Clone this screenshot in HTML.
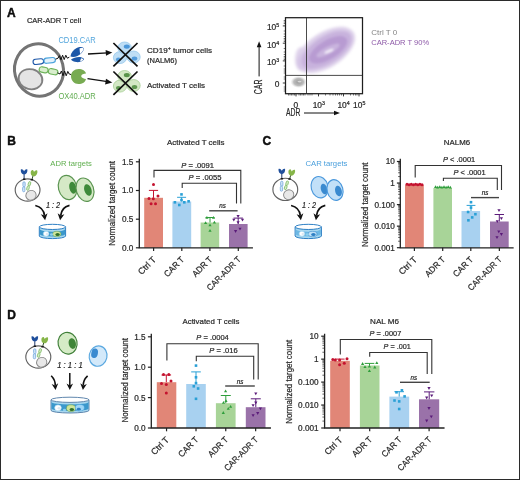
<!DOCTYPE html>
<html><head><meta charset="utf-8"><title>Figure</title>
<style>
html,body{margin:0;padding:0;background:#fff;}
body{width:520px;height:480px;overflow:hidden;position:relative;font-family:"Liberation Sans",sans-serif;}
#frame{position:absolute;left:0;top:0;width:518px;height:478px;border:1px solid #2b2b2b;}
svg{position:absolute;left:0;top:0;display:block;will-change:transform;opacity:0.999;}
svg text{font-family:"Liberation Sans",sans-serif;paint-order:stroke;stroke-width:0.22px;stroke-linejoin:round;}
</style></head><body>
<svg width="520" height="480" viewBox="0 0 520 480">
<text x="6.9" y="16.9" font-size="12" font-weight="bold" fill="#0c0c0c" stroke="#0c0c0c" style="stroke-width:0.45px">A</text>
<text x="7.2" y="144.7" font-size="12" font-weight="bold" fill="#0c0c0c" stroke="#0c0c0c" style="stroke-width:0.45px">B</text>
<text x="262.4" y="144.9" font-size="12" font-weight="bold" fill="#0c0c0c" stroke="#0c0c0c" style="stroke-width:0.45px">C</text>
<text x="7.2" y="318.7" font-size="12" font-weight="bold" fill="#0c0c0c" stroke="#0c0c0c" style="stroke-width:0.45px">D</text>
<text x="26.9" y="22.7" font-size="7.9" fill="#2a2a2a" stroke="#2a2a2a" textLength="54.2" lengthAdjust="spacingAndGlyphs">CAR-ADR T cell</text>
<text x="58.4" y="42.6" font-size="8.3" fill="#52a5dc" textLength="37.4" lengthAdjust="spacingAndGlyphs">CD19.CAR</text>
<text x="58.4" y="99" font-size="8.3" fill="#62ad52" textLength="37.4" lengthAdjust="spacingAndGlyphs">OX40.ADR</text>
<text x="147" y="53" font-size="7.9" fill="#2a2a2a" stroke="#2a2a2a" textLength="65" lengthAdjust="spacingAndGlyphs">CD19<tspan font-size="5.2" dy="-2.8">+</tspan><tspan dy="2.8"> tumor cells</tspan></text>
<text x="147" y="62.5" font-size="7.9" fill="#2a2a2a" stroke="#2a2a2a" textLength="30" lengthAdjust="spacingAndGlyphs">(NALM6)</text>
<text x="147" y="87.6" font-size="7.9" fill="#2a2a2a" stroke="#2a2a2a" textLength="58" lengthAdjust="spacingAndGlyphs">Activated T cells</text>

<g id="tcellA">
<ellipse cx="39" cy="70" rx="24.4" ry="26.2" fill="#fff" stroke="#747474" stroke-width="3" transform="rotate(-14 39 70)"/>
<ellipse cx="30.5" cy="79.2" rx="12" ry="10" fill="#e4e4e4" stroke="#808080" stroke-width="1.8" transform="rotate(14 30.5 79.2)"/>
<g transform="rotate(-6 44 61)">
<rect x="33" y="58.4" width="10.6" height="5.2" rx="2.6" fill="#fff" stroke="#1d57a8" stroke-width="1.1"/>
<rect x="44" y="58.4" width="11.4" height="5.2" rx="2.6" fill="#e3f1fb" stroke="#4aa3dc" stroke-width="1.1"/>
</g>
<path d="M55.5 59.2L58 58.2l1.400-2.600 1.600 4.200 1.600-4.600 1.600 4.400 1.600-4.400 1.500 3 2-1" stroke="#111" stroke-width="1" fill="none"/>
<path d="M70.500 56.500c.5-4.500 4.500-8.500 9-9.500c2.500-.3 4 .5 4.500 1.500c-.5 3-3 6-6.500 7.500c-2.500 1-5 1.300-7 .5z" fill="#1d57a8"/>
<path d="M79.500 48.500c2-1 3.500-.8 4.200 .2c-.5 2-1.800 3.800-3.600 5.200z" fill="#fff"/>
<path d="M71 59.500c2.500-1.800 6.500-2.800 10-2.300c2 .4 3 1.300 3 2.300c-1.500 1.800-4.500 2.800-7.500 2.600c-2.500-.2-4.500-1.200-5.500-2.600z" fill="#1d57a8"/>
<path d="M81 58.200c1.500 .2 2.300 .8 2.300 1.500c-.8 .8-2 1.400-3.300 1.700z" fill="#fff"/>
<g transform="rotate(11 48 70.800)">
<rect x="39" y="68" width="9" height="5.400" rx="2.700" fill="#d9eecd" stroke="#6db35a" stroke-width="1.1"/>
<rect x="48.400" y="68" width="9.600" height="5.400" rx="2.700" fill="#d9eecd" stroke="#6db35a" stroke-width="1.1"/>
</g>
<path d="M57.500 72.800L60 74l1.400-3 1.600 4.800 1.600-4.800 1.600 4.800 1.600-4.400 1.400 2.600 2 .6" stroke="#111" stroke-width="1" fill="none"/>
<path d="M71 76c0-4 3.500-7 7.500-7c4 0 7 2 7.500 4.500c-2.200 .3-4.800 1-4.800 2.700c0 1.700 2.600 2.300 4.800 2.800c-.5 3-3.500 5-7.500 5c-4.300 0-7.500-3.500-7.500-8z" fill="#78ab52"/>
</g>
<path d="M88 54L107.500 52.800" stroke="#111" stroke-width="1.300" fill="none"/>
<path d="M112.300 52.500l-6.700-2.400l.4 5.600z" fill="#111"/>
<path d="M87.500 78.700L107.500 81.700" stroke="#111" stroke-width="1.300" fill="none"/>
<path d="M112.300 82.400l-6.300-3.600l-.9 5.700z" fill="#111"/>

<g transform="translate(0 0)">
<ellipse cx="120" cy="57.6" rx="6.6" ry="6" fill="#bfdef5" stroke="#8cc3ea" stroke-width="0.7"/>
<ellipse cx="118.5" cy="59.5" rx="2.6" ry="2" fill="#3f8fd6" opacity="0.85"/>
<ellipse cx="133.6" cy="57" rx="6.6" ry="6" fill="#bfdef5" stroke="#8cc3ea" stroke-width="0.7"/>
<ellipse cx="134.5" cy="58.5" rx="2.8" ry="2" fill="#3f8fd6" opacity="0.85"/>
<ellipse cx="124.6" cy="47.8" rx="6.8" ry="5.8" fill="#bfdef5" stroke="#8cc3ea" stroke-width="0.7"/>
<ellipse cx="126.8" cy="46.6" rx="3" ry="2.2" fill="#3f8fd6" opacity="0.9"/>
<path d="M113.4 43L137.5 66.4M137.5 43L113.4 66.4" stroke="#111" stroke-width="1.7"/>
</g>
<g transform="translate(0 28.5)">
<ellipse cx="120" cy="57.6" rx="6.6" ry="6" fill="#d3e8c5" stroke="#9cc98a" stroke-width="0.7"/>
<ellipse cx="118.5" cy="59.5" rx="2.6" ry="2" fill="#4a8a3c" opacity="0.85"/>
<ellipse cx="133.6" cy="57" rx="6.6" ry="6" fill="#d3e8c5" stroke="#9cc98a" stroke-width="0.7"/>
<ellipse cx="134.5" cy="58.5" rx="2.8" ry="2" fill="#4a8a3c" opacity="0.85"/>
<ellipse cx="124.6" cy="47.8" rx="6.8" ry="5.8" fill="#d3e8c5" stroke="#9cc98a" stroke-width="0.7"/>
<ellipse cx="126.8" cy="46.6" rx="3" ry="2.2" fill="#4a8a3c" opacity="0.9"/>
<path d="M113.4 43L137.5 66.4M137.5 43L113.4 66.4" stroke="#111" stroke-width="1.7"/>
</g>

<defs>
<radialGradient id="gp" cx="50%" cy="50%" r="50%">
<stop offset="0" stop-color="#9e78b8" stop-opacity="0.95"/>
<stop offset="0.55" stop-color="#b396c9" stop-opacity="0.8"/>
<stop offset="0.85" stop-color="#d5c4e2" stop-opacity="0.55"/>
<stop offset="1" stop-color="#e9dff0" stop-opacity="0"/>
</radialGradient>
<radialGradient id="gg" cx="50%" cy="50%" r="50%">
<stop offset="0" stop-color="#9a9a9a" stop-opacity="1"/>
<stop offset="0.6" stop-color="#b0b0b0" stop-opacity="0.85"/>
<stop offset="1" stop-color="#d8d8d8" stop-opacity="0"/>
</radialGradient>
</defs>
<filter id="bl" x="-20%" y="-20%" width="140%" height="140%"><feGaussianBlur stdDeviation="1.6"/></filter>
<filter id="bl2" x="-20%" y="-20%" width="140%" height="140%"><feGaussianBlur stdDeviation="0.9"/></filter>
<g filter="url(#bl)">
<ellipse cx="301.5" cy="59" rx="6.5" ry="12" fill="#e0d4ec"/>
<ellipse cx="325.5" cy="50" rx="33" ry="17.5" fill="#ddd0ea" transform="rotate(-32.5 325.5 49.5)"/>
<ellipse cx="310" cy="60" rx="14" ry="10" fill="#d6c6e6" transform="rotate(-25 310 60)"/>
<ellipse cx="326.5" cy="50" rx="28.5" ry="13.8" fill="#c8b2dd" transform="rotate(-32.5 326.5 49.5)"/>
</g>
<g filter="url(#bl2)">
<ellipse cx="328" cy="49.8" rx="21.5" ry="9.4" fill="#b89bd2" transform="rotate(-31 328 49.5)"/>
<ellipse cx="328" cy="50.5" rx="13" ry="3.6" fill="#c9b4de" transform="rotate(-28 328 50.5)"/>
<ellipse cx="329" cy="51.2" rx="5" ry="1.2" fill="#f5f0fa" transform="rotate(-24 329 51.2)"/>
</g>
<ellipse cx="298.6" cy="82" rx="8.2" ry="6" fill="url(#gg)"/>
<ellipse cx="299.5" cy="81.6" rx="2" ry="0.9" fill="#e2e2e2" opacity="0.8"/>
<rect x="285.5" y="17.7" width="77" height="76" fill="none" stroke="#1e1e1e" stroke-width="1.250"/>
<path d="M306.500 17.700V93.700M285.500 75.400H362.500" stroke="#2a2a2a" stroke-width="0.85"/>

<path d="M282.800 25.9H285.400" stroke="#222" stroke-width="0.9"/>
<path d="M282.800 43.2H285.400" stroke="#222" stroke-width="0.9"/>
<path d="M282.800 60.9H285.400" stroke="#222" stroke-width="0.9"/>
<path d="M282.800 83H285.400" stroke="#222" stroke-width="0.9"/>
<path d="M296 93.700V96.400" stroke="#222" stroke-width="0.9"/>
<path d="M318.5 93.700V96.400" stroke="#222" stroke-width="0.9"/>
<path d="M343.5 93.700V96.400" stroke="#222" stroke-width="0.9"/>
<path d="M359 93.700V96.400" stroke="#222" stroke-width="0.9"/>
<path d="M288.5 93.700V95.500" stroke="#222" stroke-width="0.6"/>
<path d="M290 93.700V95.500" stroke="#222" stroke-width="0.6"/>
<path d="M291.5 93.700V95.500" stroke="#222" stroke-width="0.6"/>
<path d="M293 93.700V95.500" stroke="#222" stroke-width="0.6"/>
<path d="M294.5 93.700V95.500" stroke="#222" stroke-width="0.6"/>
<path d="M299 93.700V95.500" stroke="#222" stroke-width="0.6"/>
<path d="M300.5 93.700V95.500" stroke="#222" stroke-width="0.6"/>
<path d="M302 93.700V95.500" stroke="#222" stroke-width="0.6"/>
<path d="M303.5 93.700V95.500" stroke="#222" stroke-width="0.6"/>
<path d="M305 93.700V95.500" stroke="#222" stroke-width="0.6"/>
<path d="M308 93.700V95.500" stroke="#222" stroke-width="0.6"/>
<path d="M310 93.700V95.500" stroke="#222" stroke-width="0.6"/>
<path d="M312 93.700V95.500" stroke="#222" stroke-width="0.6"/>
<path d="M325.5 93.700V95.500" stroke="#222" stroke-width="0.6"/>
<path d="M330 93.700V95.500" stroke="#222" stroke-width="0.6"/>
<path d="M333 93.700V95.500" stroke="#222" stroke-width="0.6"/>
<path d="M335.5 93.700V95.500" stroke="#222" stroke-width="0.6"/>
<path d="M337.5 93.700V95.500" stroke="#222" stroke-width="0.6"/>
<path d="M339.5 93.700V95.500" stroke="#222" stroke-width="0.6"/>
<path d="M341.5 93.700V95.500" stroke="#222" stroke-width="0.6"/>
<path d="M350.5 93.700V95.500" stroke="#222" stroke-width="0.6"/>
<path d="M353.5 93.700V95.500" stroke="#222" stroke-width="0.6"/>
<path d="M355.5 93.700V95.500" stroke="#222" stroke-width="0.6"/>
<path d="M357 93.700V95.500" stroke="#222" stroke-width="0.6"/>
<path d="M283.700 20.5H285.400" stroke="#222" stroke-width="0.6"/>
<path d="M283.700 22H285.400" stroke="#222" stroke-width="0.6"/>
<path d="M283.700 23.5H285.400" stroke="#222" stroke-width="0.6"/>
<path d="M283.700 31H285.400" stroke="#222" stroke-width="0.6"/>
<path d="M283.700 34H285.400" stroke="#222" stroke-width="0.6"/>
<path d="M283.700 36.5H285.400" stroke="#222" stroke-width="0.6"/>
<path d="M283.700 38.5H285.400" stroke="#222" stroke-width="0.6"/>
<path d="M283.700 40H285.400" stroke="#222" stroke-width="0.6"/>
<path d="M283.700 41.5H285.400" stroke="#222" stroke-width="0.6"/>
<path d="M283.700 48.5H285.400" stroke="#222" stroke-width="0.6"/>
<path d="M283.700 52H285.400" stroke="#222" stroke-width="0.6"/>
<path d="M283.700 54.5H285.400" stroke="#222" stroke-width="0.6"/>
<path d="M283.700 56.5H285.400" stroke="#222" stroke-width="0.6"/>
<path d="M283.700 58H285.400" stroke="#222" stroke-width="0.6"/>
<path d="M283.700 59.5H285.400" stroke="#222" stroke-width="0.6"/>
<path d="M283.700 66H285.400" stroke="#222" stroke-width="0.6"/>
<path d="M283.700 69H285.400" stroke="#222" stroke-width="0.6"/>
<path d="M283.700 71H285.400" stroke="#222" stroke-width="0.6"/>
<path d="M283.700 73H285.400" stroke="#222" stroke-width="0.6"/>
<path d="M283.700 77H285.400" stroke="#222" stroke-width="0.6"/>
<path d="M283.700 79H285.400" stroke="#222" stroke-width="0.6"/>
<path d="M283.700 87H285.400" stroke="#222" stroke-width="0.6"/>
<path d="M283.700 89H285.400" stroke="#222" stroke-width="0.6"/>
<path d="M283.700 91H285.400" stroke="#222" stroke-width="0.6"/>
<text x="279.2" y="29.5" font-size="8.4" fill="#2a2a2a" stroke="#2a2a2a" text-anchor="end">10<tspan font-size="5.3" dy="-3">5</tspan></text>
<text x="279.2" y="47.6" font-size="8.4" fill="#2a2a2a" stroke="#2a2a2a" text-anchor="end">10<tspan font-size="5.3" dy="-3">4</tspan></text>
<text x="279.2" y="65.2" font-size="8.4" fill="#2a2a2a" stroke="#2a2a2a" text-anchor="end">10<tspan font-size="5.3" dy="-3">3</tspan></text>
<text x="279.3" y="86.7" font-size="8.4" fill="#2a2a2a" stroke="#2a2a2a" text-anchor="end">0</text>
<text x="295.9" y="107.8" font-size="8.4" fill="#2a2a2a" stroke="#2a2a2a" text-anchor="middle">0</text>
<text x="318.8" y="107.8" font-size="8.4" fill="#2a2a2a" stroke="#2a2a2a" text-anchor="middle">10<tspan font-size="5.3" dy="-3">3</tspan></text>
<text x="343.6" y="107.8" font-size="8.4" fill="#2a2a2a" stroke="#2a2a2a" text-anchor="middle">10<tspan font-size="5.3" dy="-3">4</tspan></text>
<text x="359.2" y="107.8" font-size="8.4" fill="#2a2a2a" stroke="#2a2a2a" text-anchor="middle">10<tspan font-size="5.3" dy="-3">5</tspan></text>
<text x="286" y="116.2" font-size="10" fill="#2a2a2a" stroke="#2a2a2a" textLength="14.4" lengthAdjust="spacingAndGlyphs">ADR</text>
<path d="M304 113H335" stroke="#111" stroke-width="1"/><path d="M340 113l-6-2.300v4.600z" fill="#111"/>
<text x="262.3" y="94.2" font-size="10" fill="#2a2a2a" stroke="#2a2a2a" textLength="14.6" lengthAdjust="spacingAndGlyphs" transform="rotate(-90 262.3 94.2)">CAR</text>
<path d="M259.100 76.400V46" stroke="#111" stroke-width="1"/><path d="M259.100 41.200l-2.300 6h4.600z" fill="#111"/>
<text x="371.2" y="35.2" font-size="8" fill="#858585" textLength="26" lengthAdjust="spacingAndGlyphs">Ctrl T 0</text>
<text x="371.2" y="45" font-size="8" fill="#8e5aa8" textLength="58" lengthAdjust="spacingAndGlyphs">CAR-ADR T 90%</text>
<g>
<ellipse cx="27.6" cy="190" rx="12.4" ry="11.1" fill="#fff" stroke="#626262" stroke-width="1.15"/>
<ellipse cx="31.0" cy="195.3" rx="5.2" ry="4.8" fill="#e8e8e8" stroke="#858585" stroke-width="0.9" transform="rotate(-25 31.0 195.3)"/>
<path d="M24.1 174.4v5" stroke="#223a6a" stroke-width="1"/>
<path d="M33.0 175.8l-1.100 4" stroke="#33502a" stroke-width="1"/>
<rect x="22.900000000000002" y="181.8" width="2.300" height="5" rx="1.150" fill="#d3e6f7" stroke="#6fa6dc" stroke-width="0.750"/>
<rect x="22.6" y="186.8" width="2.300" height="5" rx="1.150" fill="#d3e6f7" stroke="#6fa6dc" stroke-width="0.750"/>
<rect x="28.3" y="181.6" width="2.200" height="4.400" rx="1.100" fill="#d9edca" stroke="#78b860" stroke-width="0.750" transform="rotate(16 29.400000000000002 183.8)"/>
<rect x="26.900000000000002" y="185.9" width="2.200" height="4.400" rx="1.100" fill="#d9edca" stroke="#78b860" stroke-width="0.750" transform="rotate(16 28.0 188.1)"/>
<path d="M23.0 179.3h2.400M30.6 179.7h2.400" stroke="#1a1a1a" stroke-width="1.500"/>
<path d="M24.1 174.8c-2.400-.4-3.600-2.600-3.300-5.200c1.200-.7 2.500 .2 3.300 1.700c.8-1.500 2.100-2.400 3.300-1.700c.3 2.600-.9 4.800-3.300 5.200z" fill="#1f4f9c"/>
<path d="M30.700000000000003 172.7c0-2 1.100-3 2.300-2.700c.5 .6 .7 1.400 1.100 2c.6-1.300 1.900-2.100 3.100-1.600c.8 2.500-.7 5.500-3.300 5.900c-2 .2-3.200-1.500-3.200-3.600z" fill="#86b548"/>
</g>
<text x="50.3" y="166.4" font-size="8.1" fill="#5fae4e" textLength="41.6" lengthAdjust="spacingAndGlyphs">ADR targets</text>
<g transform="rotate(-14 67.6 187.5)"><ellipse cx="67.6" cy="187.5" rx="9.2" ry="12.2" fill="#d5e9c6" stroke="#5a9450" stroke-width="1.15"/><ellipse cx="72.6" cy="189.0" rx="3.5" ry="6" fill="#3f8a3a"/></g>
<g transform="rotate(-18 85 189.7)"><ellipse cx="85" cy="189.7" rx="8.6" ry="12" fill="#d5e9c6" stroke="#5a9450" stroke-width="1.15"/><ellipse cx="87.7" cy="190.89999999999998" rx="3.6" ry="6" fill="#3f8a3a"/></g>
<text x="46.1" y="207.7" font-size="8.4" fill="#2a2a2a" stroke="#2a2a2a" textLength="14" lengthAdjust="spacingAndGlyphs" font-style="italic">1 : 2</text>
<path d="M35.3 205.5Q43.63 207.3 44.512 215.7" stroke="#111" stroke-width="1.700" fill="none"/>
<path d="M0 0L-6.600 -3.400L-4.800 0L-6.600 3.400Z" fill="#111" transform="translate(45.1 220.2) rotate(82)"/>
<path d="M69.5 205.3Q61.510000000000005 207.10000000000002 60.664 215.7" stroke="#111" stroke-width="1.700" fill="none"/>
<path d="M0 0L-6.600 -3.400L-4.800 0L-6.600 3.400Z" fill="#111" transform="translate(60.1 220.2) rotate(98)"/>
<path d="M39.3 226.9V236.0A13.149999999999999 2.6 0 0 0 65.6 236.0V226.9Z" fill="#a8d8f0" stroke="#2d7fc4" stroke-width="1"/>
<path d="M39.8 229.1V234.0A12.649999999999999 2.6 0 0 0 65.1 234.0V229.1A12.649999999999999 2.6 0 0 1 39.8 229.1Z" fill="#3b98cc"/>
<ellipse cx="46.1" cy="233.700" rx="2.800" ry="2.500" fill="#fff" stroke="#9fd3ee" stroke-width="0.600"/><ellipse cx="47" cy="233.900" rx="1.300" ry="1.200" fill="#dfe9f2"/><ellipse cx="56.8" cy="234" rx="4.200" ry="2.700" fill="#cfe59a" stroke="#5a9a48" stroke-width="0.500"/><ellipse cx="57.6" cy="234.600" rx="2.200" ry="1.500" fill="#2f6f2c"/><ellipse cx="51.5" cy="234.500" rx="1.600" ry="1.200" fill="#8fd0ee"/>
<ellipse cx="52.449999999999996" cy="226.9" rx="13.149999999999999" ry="2.6" fill="#fff" stroke="#2d7fc4" stroke-width="1"/>
<g>
<ellipse cx="285.3" cy="189.4" rx="12.4" ry="11.1" fill="#fff" stroke="#626262" stroke-width="1.15"/>
<ellipse cx="288.7" cy="194.70000000000002" rx="5.2" ry="4.8" fill="#e8e8e8" stroke="#858585" stroke-width="0.9" transform="rotate(-25 288.7 194.70000000000002)"/>
<path d="M281.8 173.8v5" stroke="#223a6a" stroke-width="1"/>
<path d="M290.7 175.20000000000002l-1.100 4" stroke="#33502a" stroke-width="1"/>
<rect x="280.6" y="181.20000000000002" width="2.300" height="5" rx="1.150" fill="#d3e6f7" stroke="#6fa6dc" stroke-width="0.750"/>
<rect x="280.3" y="186.20000000000002" width="2.300" height="5" rx="1.150" fill="#d3e6f7" stroke="#6fa6dc" stroke-width="0.750"/>
<rect x="286.0" y="181.0" width="2.200" height="4.400" rx="1.100" fill="#d9edca" stroke="#78b860" stroke-width="0.750" transform="rotate(16 287.1 183.20000000000002)"/>
<rect x="284.6" y="185.3" width="2.200" height="4.400" rx="1.100" fill="#d9edca" stroke="#78b860" stroke-width="0.750" transform="rotate(16 285.7 187.5)"/>
<path d="M280.7 178.70000000000002h2.400M288.3 179.1h2.400" stroke="#1a1a1a" stroke-width="1.500"/>
<path d="M281.8 174.20000000000002c-2.400-.4-3.600-2.600-3.300-5.200c1.200-.7 2.500 .2 3.300 1.700c.8-1.500 2.100-2.400 3.300-1.700c.3 2.600-.9 4.800-3.300 5.200z" fill="#1f4f9c"/>
<path d="M288.40000000000003 172.1c0-2 1.100-3 2.300-2.700c.5 .6 .7 1.400 1.100 2c.6-1.300 1.900-2.100 3.100-1.600c.8 2.500-.7 5.500-3.300 5.900c-2 .2-3.200-1.500-3.200-3.600z" fill="#86b548"/>
</g>
<text x="305.4" y="165.7" font-size="8.1" fill="#4a9fdc" textLength="42.1" lengthAdjust="spacingAndGlyphs">CAR targets</text>
<g transform="rotate(-15 319.6 187.2)"><ellipse cx="319.6" cy="187.2" rx="8.4" ry="10.8" fill="#c2e0f8" stroke="#4a98dc" stroke-width="1.15"/><ellipse cx="323.40000000000003" cy="190.1" rx="3.2" ry="5.4" fill="#3a8ad0"/></g>
<g transform="rotate(-15 335 190)"><ellipse cx="335" cy="190" rx="7.9" ry="10.5" fill="#c2e0f8" stroke="#4a98dc" stroke-width="1.15"/><ellipse cx="338.1" cy="191.9" rx="3.3" ry="5.4" fill="#3a8ad0"/></g>
<text x="301.90000000000003" y="207.7" font-size="8.4" fill="#2a2a2a" stroke="#2a2a2a" textLength="14" lengthAdjust="spacingAndGlyphs" font-style="italic">1 : 2</text>
<path d="M291.1 205.5Q299.43 207.3 300.312 215.7" stroke="#111" stroke-width="1.700" fill="none"/>
<path d="M0 0L-6.600 -3.400L-4.800 0L-6.600 3.400Z" fill="#111" transform="translate(300.90000000000003 220.2) rotate(82)"/>
<path d="M325.3 205.3Q317.31000000000006 207.10000000000002 316.46400000000006 215.7" stroke="#111" stroke-width="1.700" fill="none"/>
<path d="M0 0L-6.600 -3.400L-4.800 0L-6.600 3.400Z" fill="#111" transform="translate(315.90000000000003 220.2) rotate(98)"/>
<path d="M295.1 226.9V236.0A13.149999999999977 2.6 0 0 0 321.4 236.0V226.9Z" fill="#a8d8f0" stroke="#2d7fc4" stroke-width="1"/>
<path d="M295.6 229.1V234.0A12.649999999999977 2.6 0 0 0 320.9 234.0V229.1A12.649999999999977 2.6 0 0 1 295.6 229.1Z" fill="#6db8e4"/>
<ellipse cx="301.90000000000003" cy="233.700" rx="2.800" ry="2.500" fill="#fff" stroke="#9fd3ee" stroke-width="0.600"/><ellipse cx="302.8" cy="233.900" rx="1.300" ry="1.200" fill="#dfe9f2"/><ellipse cx="312.6" cy="234" rx="4.400" ry="2.700" fill="#bfe0f6" stroke="#2d7fc4" stroke-width="0.500"/><ellipse cx="313.40000000000003" cy="234.400" rx="2.200" ry="1.500" fill="#2d7fc4"/><ellipse cx="307.3" cy="234.500" rx="1.600" ry="1.200" fill="#8fd0ee"/>
<ellipse cx="308.25" cy="226.9" rx="13.149999999999977" ry="2.6" fill="#fff" stroke="#2d7fc4" stroke-width="1"/>
<g>
<ellipse cx="38.3" cy="357" rx="12.5" ry="11.1" fill="#fff" stroke="#626262" stroke-width="1.15"/>
<ellipse cx="41.699999999999996" cy="362.3" rx="5.2" ry="4.8" fill="#e8e8e8" stroke="#858585" stroke-width="0.9" transform="rotate(-25 41.699999999999996 362.3)"/>
<path d="M34.8 341.4v5" stroke="#223a6a" stroke-width="1"/>
<path d="M43.699999999999996 342.8l-1.100 4" stroke="#33502a" stroke-width="1"/>
<rect x="33.599999999999994" y="348.8" width="2.300" height="5" rx="1.150" fill="#d3e6f7" stroke="#6fa6dc" stroke-width="0.750"/>
<rect x="33.3" y="353.8" width="2.300" height="5" rx="1.150" fill="#d3e6f7" stroke="#6fa6dc" stroke-width="0.750"/>
<rect x="39.0" y="348.6" width="2.200" height="4.400" rx="1.100" fill="#d9edca" stroke="#78b860" stroke-width="0.750" transform="rotate(16 40.099999999999994 350.8)"/>
<rect x="37.599999999999994" y="352.9" width="2.200" height="4.400" rx="1.100" fill="#d9edca" stroke="#78b860" stroke-width="0.750" transform="rotate(16 38.699999999999996 355.1)"/>
<path d="M33.699999999999996 346.3h2.400M41.3 346.7h2.400" stroke="#1a1a1a" stroke-width="1.500"/>
<path d="M34.8 341.8c-2.400-.4-3.600-2.600-3.300-5.200c1.200-.7 2.500 .2 3.300 1.700c.8-1.500 2.100-2.400 3.300-1.700c.3 2.600-.9 4.800-3.300 5.200z" fill="#1f4f9c"/>
<path d="M41.4 339.7c0-2 1.100-3 2.300-2.700c.5 .6 .7 1.400 1.100 2c.6-1.300 1.900-2.100 3.100-1.600c.8 2.500-.7 5.500-3.300 5.900c-2 .2-3.200-1.500-3.200-3.600z" fill="#86b548"/>
</g>
<g transform="rotate(-12 67.6 343.2)"><ellipse cx="67.6" cy="343.2" rx="9.5" ry="10.9" fill="#d5ebc6" stroke="#3f7f38" stroke-width="1.15"/><ellipse cx="72.1" cy="344.5" rx="3.6" ry="5.4" fill="#3f8538"/></g>
<g transform="rotate(12 98.1 356.1)"><ellipse cx="98.1" cy="356.1" rx="8.9" ry="10.2" fill="#d3e9fa" stroke="#5aa8e0" stroke-width="1.15"/><ellipse cx="94.1" cy="354.1" rx="3.3" ry="4.8" fill="#3a8ad0"/></g>
<text x="69.9" y="368.3" font-size="8.6" fill="#222" stroke="#222" text-anchor="middle" textLength="25.5" lengthAdjust="spacingAndGlyphs" font-style="italic">1 : 1 : 1</text>
<path d="M51.2 375.8Q55.38 380.0 55.248000000000005 385.5" stroke="#111" stroke-width="1.600" fill="none"/>
<path d="M0 0L-6.400 -3.300L-4.600 0L-6.400 3.300Z" fill="#111" transform="translate(55.6 390) rotate(84)"/>
<g transform="translate(69.8 373) rotate(90.0)"><path d="M0 0H14.0" stroke="#111" stroke-width="1.500"/><path d="M17.0 0L10.6 -3.300L12.4 0L10.6 3.300Z" fill="#111"/></g>
<path d="M87.6 375.8Q83.135 380.0 83.27600000000001 385.5" stroke="#111" stroke-width="1.600" fill="none"/>
<path d="M0 0L-6.400 -3.300L-4.600 0L-6.400 3.300Z" fill="#111" transform="translate(82.9 390) rotate(96)"/>
<path d="M51 399.8V410.4A19.0 2.6 0 0 0 89 410.4V399.8Z" fill="#a8d8f0" stroke="#5f86ad" stroke-width="1"/>
<path d="M51.5 402.0V408.4A18.5 2.6 0 0 0 88.5 408.4V402.0A18.5 2.6 0 0 1 51.5 402.0Z" fill="#3b98cc"/>
<ellipse cx="58" cy="407.800" rx="3.300" ry="2.900" fill="#fff" stroke="#bfe0f6" stroke-width="0.600"/><ellipse cx="59" cy="408.200" rx="1.500" ry="1.300" fill="#dfe9f2"/><ellipse cx="71" cy="408.200" rx="4.600" ry="3.400" fill="#cfe59a" stroke="#5a9a48" stroke-width="0.500"/><ellipse cx="71.800" cy="409.400" rx="2.300" ry="1.500" fill="#2f6f2c"/><ellipse cx="79.800" cy="407.800" rx="4.500" ry="3.300" fill="#9fd6f6" stroke="#4aa3dc" stroke-width="0.500"/><ellipse cx="78.800" cy="409.200" rx="2" ry="1.400" fill="#2d7fc4"/><ellipse cx="64.500" cy="410" rx="1.600" ry="1.200" fill="#8fd0ee"/>
<ellipse cx="70.0" cy="399.8" rx="19.0" ry="2.6" fill="#fff" stroke="#5f86ad" stroke-width="1"/>
<rect x="144.2" y="197.8" width="18.80000000000001" height="50.0" fill="#e18677"/>
<rect x="172.4" y="201.5" width="18.799999999999983" height="46.30000000000001" fill="#a8d1f0"/>
<rect x="200.6" y="222.5" width="18.599999999999994" height="25.30000000000001" fill="#a8d498"/>
<rect x="229" y="224" width="18.599999999999994" height="23.80000000000001" fill="#9a72a9"/>
<path d="M153.5 197.8V190.4M148.9 190.4H158.1" stroke="#c4122f" stroke-width="1" fill="none"/>
<circle cx="153.5" cy="184.4" r="1.5" fill="#c4122f"/>
<circle cx="158" cy="196" r="1.5" fill="#c4122f"/>
<circle cx="149" cy="198.5" r="1.5" fill="#c4122f"/>
<circle cx="153.3" cy="198.8" r="1.5" fill="#c4122f"/>
<circle cx="151.1" cy="203.8" r="1.5" fill="#c4122f"/>
<circle cx="155.5" cy="203.8" r="1.5" fill="#c4122f"/>
<path d="M181.6 201.5V197.3M177.1 197.3H186.1" stroke="#2aa0d6" stroke-width="1" fill="none"/>
<rect x="180.2" y="193.1" width="2.6" height="2.6" fill="#2aa0d6"/>
<rect x="180.2" y="198.7" width="2.6" height="2.6" fill="#2aa0d6"/>
<rect x="173.6" y="201.0" width="2.6" height="2.6" fill="#2aa0d6"/>
<rect x="183.0" y="201.0" width="2.6" height="2.6" fill="#2aa0d6"/>
<rect x="187.29999999999998" y="200.0" width="2.6" height="2.6" fill="#2aa0d6"/>
<rect x="178.0" y="203.7" width="2.6" height="2.6" fill="#2aa0d6"/>
<path d="M210 222.5V217.5M205.5 217.5H214.5" stroke="#2f9e3c" stroke-width="1" fill="none"/>
<path d="M205.3 218.7L208.5 218.7L206.9 215.9Z" fill="#2f9e3c"/>
<path d="M211.9 218.7L215.1 218.7L213.5 215.9Z" fill="#2f9e3c"/>
<path d="M204.0 224.0L207.2 224.0L205.6 221.20000000000002Z" fill="#2f9e3c"/>
<path d="M212.8 223.5L216.0 223.5L214.4 220.70000000000002Z" fill="#2f9e3c"/>
<path d="M208.4 226.2L211.6 226.2L210 223.4Z" fill="#2f9e3c"/>
<path d="M208.4 231.79999999999998L211.6 231.79999999999998L210 229.0Z" fill="#2f9e3c"/>
<path d="M238.2 224V218.1M233.5 218.1H242.89999999999998" stroke="#5b1b7a" stroke-width="1" fill="none"/>
<path d="M236.5 215.10000000000002L239.7 215.10000000000002L238.1 217.9Z" fill="#5b1b7a"/>
<path d="M232.20000000000002 218.8L235.4 218.8L233.8 221.6Z" fill="#5b1b7a"/>
<path d="M240.9 218.8L244.1 218.8L242.5 221.6Z" fill="#5b1b7a"/>
<path d="M236.5 221.3L239.7 221.3L238.1 224.1Z" fill="#5b1b7a"/>
<path d="M234.0 230.10000000000002L237.2 230.10000000000002L235.6 232.9Z" fill="#5b1b7a"/>
<path d="M238.4 227.8L241.6 227.8L240 230.6Z" fill="#5b1b7a"/>
<path d="M139.3 159.5V247.8H252.3" stroke="#222" stroke-width="1.3" fill="none" stroke-linecap="square"/>
<path d="M135.9 161.8H139.3" stroke="#222" stroke-width="1.2"/>
<text x="133.4" y="164.70000000000002" font-size="8.2" fill="#2a2a2a" stroke="#2a2a2a" text-anchor="end">1.5</text>
<path d="M135.9 190.5H139.3" stroke="#222" stroke-width="1.2"/>
<text x="133.4" y="193.4" font-size="8.2" fill="#2a2a2a" stroke="#2a2a2a" text-anchor="end">1.0</text>
<path d="M135.9 219.2H139.3" stroke="#222" stroke-width="1.2"/>
<text x="133.4" y="222.1" font-size="8.2" fill="#2a2a2a" stroke="#2a2a2a" text-anchor="end">0.5</text>
<path d="M135.9 247.8H139.3" stroke="#222" stroke-width="1.2"/>
<text x="133.4" y="250.70000000000002" font-size="8.2" fill="#2a2a2a" stroke="#2a2a2a" text-anchor="end">0.0</text>
<path d="M153.6 247.8V251.10000000000002" stroke="#222" stroke-width="1.2"/>
<text x="156.7" y="260.1" font-size="8.8" fill="#2a2a2a" stroke="#2a2a2a" text-anchor="end" textLength="21.5" lengthAdjust="spacingAndGlyphs" transform="rotate(-45 156.7 260.1)">Ctrl T</text>
<path d="M181.8 247.8V251.10000000000002" stroke="#222" stroke-width="1.2"/>
<text x="184.9" y="260.1" font-size="8.8" fill="#2a2a2a" stroke="#2a2a2a" text-anchor="end" textLength="24.5" lengthAdjust="spacingAndGlyphs" transform="rotate(-45 184.9 260.1)">CAR T</text>
<path d="M209.89999999999998 247.8V251.10000000000002" stroke="#222" stroke-width="1.2"/>
<text x="212.99999999999997" y="260.1" font-size="8.8" fill="#2a2a2a" stroke="#2a2a2a" text-anchor="end" textLength="24.5" lengthAdjust="spacingAndGlyphs" transform="rotate(-45 212.99999999999997 260.1)">ADR T</text>
<path d="M238.3 247.8V251.10000000000002" stroke="#222" stroke-width="1.2"/>
<text x="241.4" y="260.1" font-size="8.8" fill="#2a2a2a" stroke="#2a2a2a" text-anchor="end" textLength="44" lengthAdjust="spacingAndGlyphs" transform="rotate(-45 241.4 260.1)">CAR-ADR T</text>
<text x="167" y="145" font-size="7.7" fill="#2a2a2a" stroke="#2a2a2a" textLength="57.5" lengthAdjust="spacingAndGlyphs">Activated T cells</text>
<text x="115.4" y="245.8" font-size="9.2" fill="#2a2a2a" stroke="#2a2a2a" textLength="84.7" lengthAdjust="spacingAndGlyphs" transform="rotate(-90 115.4 245.8)">Normalized target count</text>
<path d="M154 177.5V170.4H240.8V203.5" stroke="#333" stroke-width="1.1" fill="none"/>
<text x="181.2" y="167.6" font-size="7.6" fill="#2a2a2a" stroke="#2a2a2a" textLength="32.8" lengthAdjust="spacingAndGlyphs"><tspan font-style="italic">P</tspan> = .0091</text>
<path d="M182.2 188V183.2H236.5V203.5" stroke="#333" stroke-width="1.1" fill="none"/>
<text x="188.6" y="180" font-size="7.6" fill="#2a2a2a" stroke="#2a2a2a" textLength="32.8" lengthAdjust="spacingAndGlyphs"><tspan font-style="italic">P</tspan> = .0055</text>
<path d="M209.2 210.8H237.6" stroke="#444" stroke-width="1.4"/>
<text x="222.5" y="208" font-size="7.6" fill="#2a2a2a" stroke="#2a2a2a" text-anchor="middle" textLength="6.6" lengthAdjust="spacingAndGlyphs" font-style="italic">ns</text>
<rect x="405" y="185" width="18.80000000000001" height="62.80000000000001" fill="#e18677"/>
<rect x="433.4" y="188" width="18.600000000000023" height="59.80000000000001" fill="#a8d498"/>
<rect x="461.5" y="211" width="18.600000000000023" height="36.80000000000001" fill="#a8d1f0"/>
<rect x="490" y="221.5" width="18.69999999999999" height="26.30000000000001" fill="#9a72a9"/>
<circle cx="407.0" cy="184.3" r="1.5" fill="#c4122f"/>
<circle cx="409.15" cy="184.8" r="1.5" fill="#c4122f"/>
<circle cx="411.3" cy="184.3" r="1.5" fill="#c4122f"/>
<circle cx="413.45" cy="184.8" r="1.5" fill="#c4122f"/>
<circle cx="415.6" cy="184.3" r="1.5" fill="#c4122f"/>
<circle cx="417.75" cy="184.8" r="1.5" fill="#c4122f"/>
<circle cx="419.9" cy="184.3" r="1.5" fill="#c4122f"/>
<circle cx="422.05" cy="184.8" r="1.5" fill="#c4122f"/>
<path d="M434.0 188.1L437.20000000000005 188.1L435.6 185.3Z" fill="#2f9e3c"/>
<path d="M436.1 188.6L439.30000000000007 188.6L437.70000000000005 185.8Z" fill="#2f9e3c"/>
<path d="M438.2 188.1L441.40000000000003 188.1L439.8 185.3Z" fill="#2f9e3c"/>
<path d="M440.3 188.6L443.50000000000006 188.6L441.90000000000003 185.8Z" fill="#2f9e3c"/>
<path d="M442.4 188.1L445.6 188.1L444.0 185.3Z" fill="#2f9e3c"/>
<path d="M444.5 188.6L447.70000000000005 188.6L446.1 185.8Z" fill="#2f9e3c"/>
<path d="M446.6 188.1L449.80000000000007 188.1L448.20000000000005 185.3Z" fill="#2f9e3c"/>
<path d="M448.7 188.6L451.90000000000003 188.6L450.3 185.8Z" fill="#2f9e3c"/>
<path d="M471 211V205.4M466.6 205.4H475.4" stroke="#2aa0d6" stroke-width="1" fill="none"/>
<rect x="469.7" y="200.89999999999998" width="2.6" height="2.6" fill="#2aa0d6"/>
<rect x="469.7" y="206.29999999999998" width="2.6" height="2.6" fill="#2aa0d6"/>
<rect x="466.8" y="210.7" width="2.6" height="2.6" fill="#2aa0d6"/>
<rect x="474.09999999999997" y="212.89999999999998" width="2.6" height="2.6" fill="#2aa0d6"/>
<rect x="470.9" y="216.1" width="2.6" height="2.6" fill="#2aa0d6"/>
<rect x="467.09999999999997" y="219.0" width="2.6" height="2.6" fill="#2aa0d6"/>
<path d="M499.3 221.5V214.5M494.6 214.5H504.0" stroke="#5b1b7a" stroke-width="1" fill="none"/>
<path d="M497.4 209.3L500.6 209.3L499 212.1Z" fill="#5b1b7a"/>
<path d="M499.79999999999995 217.3L503.0 217.3L501.4 220.1Z" fill="#5b1b7a"/>
<path d="M495.7 220.3L498.90000000000003 220.3L497.3 223.1Z" fill="#5b1b7a"/>
<path d="M497.2 230.5L500.40000000000003 230.5L498.8 233.29999999999998Z" fill="#5b1b7a"/>
<path d="M499.79999999999995 233.10000000000002L503.0 233.10000000000002L501.4 235.9Z" fill="#5b1b7a"/>
<path d="M495.4 236.3L498.6 236.3L497 239.1Z" fill="#5b1b7a"/>
<path d="M400.3 159.3V247.8H513" stroke="#222" stroke-width="1.3" fill="none" stroke-linecap="square"/>
<path d="M396.90000000000003 161.5H400.3" stroke="#222" stroke-width="1.2"/>
<text x="394.90000000000003" y="164.4" font-size="8.2" fill="#2a2a2a" stroke="#2a2a2a" text-anchor="end">10</text>
<path d="M396.90000000000003 183.05H400.3" stroke="#222" stroke-width="1.2"/>
<text x="394.90000000000003" y="185.95000000000002" font-size="8.2" fill="#2a2a2a" stroke="#2a2a2a" text-anchor="end">1</text>
<path d="M396.90000000000003 204.6H400.3" stroke="#222" stroke-width="1.2"/>
<text x="394.90000000000003" y="207.5" font-size="8.2" fill="#2a2a2a" stroke="#2a2a2a" text-anchor="end">0.100</text>
<path d="M396.90000000000003 226.15H400.3" stroke="#222" stroke-width="1.2"/>
<text x="394.90000000000003" y="229.05" font-size="8.2" fill="#2a2a2a" stroke="#2a2a2a" text-anchor="end">0.010</text>
<path d="M396.90000000000003 247.7H400.3" stroke="#222" stroke-width="1.2"/>
<text x="394.90000000000003" y="250.6" font-size="8.2" fill="#2a2a2a" stroke="#2a2a2a" text-anchor="end">0.001</text>
<path d="M398.1 176.56H400.3" stroke="#222" stroke-width="0.7"/>
<path d="M398.1 172.77H400.3" stroke="#222" stroke-width="0.7"/>
<path d="M398.1 170.08H400.3" stroke="#222" stroke-width="0.7"/>
<path d="M398.1 167.99H400.3" stroke="#222" stroke-width="0.7"/>
<path d="M398.1 166.28H400.3" stroke="#222" stroke-width="0.7"/>
<path d="M398.1 164.84H400.3" stroke="#222" stroke-width="0.7"/>
<path d="M398.1 163.59H400.3" stroke="#222" stroke-width="0.7"/>
<path d="M398.1 162.49H400.3" stroke="#222" stroke-width="0.7"/>
<path d="M398.1 198.11H400.3" stroke="#222" stroke-width="0.7"/>
<path d="M398.1 194.32H400.3" stroke="#222" stroke-width="0.7"/>
<path d="M398.1 191.63H400.3" stroke="#222" stroke-width="0.7"/>
<path d="M398.1 189.54H400.3" stroke="#222" stroke-width="0.7"/>
<path d="M398.1 187.83H400.3" stroke="#222" stroke-width="0.7"/>
<path d="M398.1 186.39H400.3" stroke="#222" stroke-width="0.7"/>
<path d="M398.1 185.14H400.3" stroke="#222" stroke-width="0.7"/>
<path d="M398.1 184.04H400.3" stroke="#222" stroke-width="0.7"/>
<path d="M398.1 219.66H400.3" stroke="#222" stroke-width="0.7"/>
<path d="M398.1 215.87H400.3" stroke="#222" stroke-width="0.7"/>
<path d="M398.1 213.18H400.3" stroke="#222" stroke-width="0.7"/>
<path d="M398.1 211.09H400.3" stroke="#222" stroke-width="0.7"/>
<path d="M398.1 209.38H400.3" stroke="#222" stroke-width="0.7"/>
<path d="M398.1 207.94H400.3" stroke="#222" stroke-width="0.7"/>
<path d="M398.1 206.69H400.3" stroke="#222" stroke-width="0.7"/>
<path d="M398.1 205.59H400.3" stroke="#222" stroke-width="0.7"/>
<path d="M398.1 241.21H400.3" stroke="#222" stroke-width="0.7"/>
<path d="M398.1 237.42H400.3" stroke="#222" stroke-width="0.7"/>
<path d="M398.1 234.73H400.3" stroke="#222" stroke-width="0.7"/>
<path d="M398.1 232.64H400.3" stroke="#222" stroke-width="0.7"/>
<path d="M398.1 230.93H400.3" stroke="#222" stroke-width="0.7"/>
<path d="M398.1 229.49H400.3" stroke="#222" stroke-width="0.7"/>
<path d="M398.1 228.24H400.3" stroke="#222" stroke-width="0.7"/>
<path d="M398.1 227.14H400.3" stroke="#222" stroke-width="0.7"/>
<path d="M414.4 247.8V251.10000000000002" stroke="#222" stroke-width="1.2"/>
<text x="417.5" y="260.1" font-size="8.8" fill="#2a2a2a" stroke="#2a2a2a" text-anchor="end" textLength="21.5" lengthAdjust="spacingAndGlyphs" transform="rotate(-45 417.5 260.1)">Ctrl T</text>
<path d="M442.7 247.8V251.10000000000002" stroke="#222" stroke-width="1.2"/>
<text x="445.8" y="260.1" font-size="8.8" fill="#2a2a2a" stroke="#2a2a2a" text-anchor="end" textLength="24.5" lengthAdjust="spacingAndGlyphs" transform="rotate(-45 445.8 260.1)">ADR T</text>
<path d="M470.8 247.8V251.10000000000002" stroke="#222" stroke-width="1.2"/>
<text x="473.90000000000003" y="260.1" font-size="8.8" fill="#2a2a2a" stroke="#2a2a2a" text-anchor="end" textLength="24.5" lengthAdjust="spacingAndGlyphs" transform="rotate(-45 473.90000000000003 260.1)">CAR T</text>
<path d="M499.35 247.8V251.10000000000002" stroke="#222" stroke-width="1.2"/>
<text x="502.45000000000005" y="260.1" font-size="8.8" fill="#2a2a2a" stroke="#2a2a2a" text-anchor="end" textLength="44" lengthAdjust="spacingAndGlyphs" transform="rotate(-45 502.45000000000005 260.1)">CAR-ADR T</text>
<text x="443.8" y="145.2" font-size="7.7" fill="#2a2a2a" stroke="#2a2a2a" textLength="26.3" lengthAdjust="spacingAndGlyphs">NALM6</text>
<text x="367.7" y="246.9" font-size="9.2" fill="#2a2a2a" stroke="#2a2a2a" textLength="84.4" lengthAdjust="spacingAndGlyphs" transform="rotate(-90 367.7 246.9)">Normalized target count</text>
<path d="M415.2 177.5V165.5H501.5V190" stroke="#333" stroke-width="1.1" fill="none"/>
<text x="443" y="162.1" font-size="7.6" fill="#2a2a2a" stroke="#2a2a2a" textLength="32.3" lengthAdjust="spacingAndGlyphs"><tspan font-style="italic">P</tspan> &lt; .0001</text>
<path d="M443.4 181V178.3H497.3V190" stroke="#333" stroke-width="1.1" fill="none"/>
<text x="453.4" y="175" font-size="7.6" fill="#2a2a2a" stroke="#2a2a2a" textLength="32.3" lengthAdjust="spacingAndGlyphs"><tspan font-style="italic">P</tspan> &lt; .0001</text>
<path d="M471 197.6H499" stroke="#444" stroke-width="1.4"/>
<text x="485" y="195" font-size="7.6" fill="#2a2a2a" stroke="#2a2a2a" text-anchor="middle" textLength="6.6" lengthAdjust="spacingAndGlyphs" font-style="italic">ns</text>
<rect x="156.8" y="382.2" width="19.5" height="45.80000000000001" fill="#e18677"/>
<rect x="186.2" y="384" width="19.600000000000023" height="44" fill="#a8d1f0"/>
<rect x="215.9" y="403.2" width="19.69999999999999" height="24.80000000000001" fill="#a8d498"/>
<rect x="245.8" y="407.2" width="19.69999999999999" height="20.80000000000001" fill="#9a72a9"/>
<path d="M166.3 382.2V375M161.5 375H171.10000000000002" stroke="#c4122f" stroke-width="1" fill="none"/>
<circle cx="163.5" cy="374.4" r="1.5" fill="#c4122f"/>
<circle cx="168.8" cy="374.4" r="1.5" fill="#c4122f"/>
<circle cx="171" cy="381" r="1.5" fill="#c4122f"/>
<circle cx="161.5" cy="383.5" r="1.5" fill="#c4122f"/>
<circle cx="166.3" cy="384.4" r="1.5" fill="#c4122f"/>
<circle cx="166.3" cy="392.9" r="1.5" fill="#c4122f"/>
<path d="M196 384V371.9M191.2 371.9H200.8" stroke="#2aa0d6" stroke-width="1" fill="none"/>
<rect x="194.7" y="364.3" width="2.6" height="2.6" fill="#2aa0d6"/>
<rect x="194.7" y="376.0" width="2.6" height="2.6" fill="#2aa0d6"/>
<rect x="194.7" y="381.8" width="2.6" height="2.6" fill="#2aa0d6"/>
<rect x="192.5" y="385.0" width="2.6" height="2.6" fill="#2aa0d6"/>
<rect x="196.79999999999998" y="387.2" width="2.6" height="2.6" fill="#2aa0d6"/>
<rect x="194.7" y="397.5" width="2.6" height="2.6" fill="#2aa0d6"/>
<path d="M225.8 403.2V395.5M220.8 395.5H230.8" stroke="#2f9e3c" stroke-width="1" fill="none"/>
<path d="M224.0 392.2L227.2 392.2L225.6 389.4Z" fill="#2f9e3c"/>
<path d="M224.4 402.09999999999997L227.6 402.09999999999997L226 399.29999999999995Z" fill="#2f9e3c"/>
<path d="M221.9 403.7L225.1 403.7L223.5 400.9Z" fill="#2f9e3c"/>
<path d="M229.0 407.8L232.2 407.8L230.6 405.0Z" fill="#2f9e3c"/>
<path d="M226.70000000000002 409.8L229.9 409.8L228.3 407.0Z" fill="#2f9e3c"/>
<path d="M221.70000000000002 413.9L224.9 413.9L223.3 411.09999999999997Z" fill="#2f9e3c"/>
<path d="M255.8 407.2V398.8M250.8 398.8H260.8" stroke="#5b1b7a" stroke-width="1" fill="none"/>
<path d="M254.20000000000002 392.5L257.40000000000003 392.5L255.8 395.3Z" fill="#5b1b7a"/>
<path d="M254.20000000000002 401.6L257.40000000000003 401.6L255.8 404.40000000000003Z" fill="#5b1b7a"/>
<path d="M251.5 404.3L254.7 404.3L253.1 407.1Z" fill="#5b1b7a"/>
<path d="M258.79999999999995 407.40000000000003L262.0 407.40000000000003L260.4 410.20000000000005Z" fill="#5b1b7a"/>
<path d="M256.09999999999997 412.1L259.3 412.1L257.7 414.90000000000003Z" fill="#5b1b7a"/>
<path d="M251.5 414.2L254.7 414.2L253.1 417.0Z" fill="#5b1b7a"/>
<path d="M151.3 334.3V428H270.3" stroke="#222" stroke-width="1.3" fill="none" stroke-linecap="square"/>
<path d="M147.9 336.8H151.3" stroke="#222" stroke-width="1.2"/>
<text x="145.6" y="339.7" font-size="8.2" fill="#2a2a2a" stroke="#2a2a2a" text-anchor="end">1.5</text>
<path d="M147.9 367.2H151.3" stroke="#222" stroke-width="1.2"/>
<text x="145.6" y="370.09999999999997" font-size="8.2" fill="#2a2a2a" stroke="#2a2a2a" text-anchor="end">1.0</text>
<path d="M147.9 397.6H151.3" stroke="#222" stroke-width="1.2"/>
<text x="145.6" y="400.5" font-size="8.2" fill="#2a2a2a" stroke="#2a2a2a" text-anchor="end">0.5</text>
<path d="M147.9 428H151.3" stroke="#222" stroke-width="1.2"/>
<text x="145.6" y="430.9" font-size="8.2" fill="#2a2a2a" stroke="#2a2a2a" text-anchor="end">0.0</text>
<path d="M166.55 428V431.3" stroke="#222" stroke-width="1.2"/>
<text x="169.65" y="440.3" font-size="8.8" fill="#2a2a2a" stroke="#2a2a2a" text-anchor="end" textLength="21.5" lengthAdjust="spacingAndGlyphs" transform="rotate(-45 169.65 440.3)">Ctrl T</text>
<path d="M196.0 428V431.3" stroke="#222" stroke-width="1.2"/>
<text x="199.1" y="440.3" font-size="8.8" fill="#2a2a2a" stroke="#2a2a2a" text-anchor="end" textLength="24.5" lengthAdjust="spacingAndGlyphs" transform="rotate(-45 199.1 440.3)">CAR T</text>
<path d="M225.75 428V431.3" stroke="#222" stroke-width="1.2"/>
<text x="228.85" y="440.3" font-size="8.8" fill="#2a2a2a" stroke="#2a2a2a" text-anchor="end" textLength="24.5" lengthAdjust="spacingAndGlyphs" transform="rotate(-45 228.85 440.3)">ADR T</text>
<path d="M255.65 428V431.3" stroke="#222" stroke-width="1.2"/>
<text x="258.75" y="440.3" font-size="8.8" fill="#2a2a2a" stroke="#2a2a2a" text-anchor="end" textLength="44" lengthAdjust="spacingAndGlyphs" transform="rotate(-45 258.75 440.3)">CAR-ADR T</text>
<text x="182.5" y="324.3" font-size="7.7" fill="#2a2a2a" stroke="#2a2a2a" textLength="57" lengthAdjust="spacingAndGlyphs">Activated T cells</text>
<text x="128" y="422.5" font-size="9.2" fill="#2a2a2a" stroke="#2a2a2a" textLength="84.5" lengthAdjust="spacingAndGlyphs" transform="rotate(-90 128 422.5)">Normalized target count</text>
<path d="M166.9 360.5V343.8H258.2V379.5" stroke="#333" stroke-width="1.1" fill="none"/>
<text x="196.3" y="340" font-size="7.6" fill="#2a2a2a" stroke="#2a2a2a" textLength="32.5" lengthAdjust="spacingAndGlyphs"><tspan font-style="italic">P</tspan> = .0004</text>
<path d="M196.3 361.3V356.3H253.7V379.5" stroke="#333" stroke-width="1.1" fill="none"/>
<text x="209.3" y="353" font-size="7.6" fill="#2a2a2a" stroke="#2a2a2a" textLength="28.3" lengthAdjust="spacingAndGlyphs"><tspan font-style="italic">P</tspan> = .016</text>
<path d="M225.2 386H254.8" stroke="#444" stroke-width="1.4"/>
<text x="240" y="383.5" font-size="7.6" fill="#2a2a2a" stroke="#2a2a2a" text-anchor="middle" textLength="6.6" lengthAdjust="spacingAndGlyphs" font-style="italic">ns</text>
<rect x="330.2" y="360.8" width="19.600000000000023" height="67.19999999999999" fill="#e18677"/>
<rect x="359.9" y="365.5" width="19.600000000000023" height="62.5" fill="#a8d498"/>
<rect x="389.4" y="396.6" width="19.80000000000001" height="31.399999999999977" fill="#a8d1f0"/>
<rect x="419" y="399.3" width="20.19999999999999" height="28.69999999999999" fill="#9a72a9"/>
<path d="M339.6 360.8V359.1M334.6 359.1H344.6" stroke="#c4122f" stroke-width="1" fill="none"/>
<circle cx="332.8" cy="359.4" r="1.5" fill="#c4122f"/>
<circle cx="335.3" cy="360" r="1.5" fill="#c4122f"/>
<circle cx="339.6" cy="360" r="1.5" fill="#c4122f"/>
<circle cx="347" cy="358.7" r="1.5" fill="#c4122f"/>
<circle cx="344.3" cy="363.2" r="1.5" fill="#c4122f"/>
<circle cx="339.6" cy="364.8" r="1.5" fill="#c4122f"/>
<path d="M369.5 365.5V363.4M364.7 363.4H374.3" stroke="#2f9e3c" stroke-width="1" fill="none"/>
<path d="M361.0 364.9L364.20000000000005 364.9L362.6 362.09999999999997Z" fill="#2f9e3c"/>
<path d="M375.2 364.0L378.40000000000003 364.0L376.8 361.2Z" fill="#2f9e3c"/>
<path d="M363.4 368.0L366.6 368.0L365 365.2Z" fill="#2f9e3c"/>
<path d="M367.79999999999995 367.59999999999997L371.0 367.59999999999997L369.4 364.79999999999995Z" fill="#2f9e3c"/>
<path d="M373.2 368.4L376.40000000000003 368.4L374.8 365.59999999999997Z" fill="#2f9e3c"/>
<path d="M367.79999999999995 372.09999999999997L371.0 372.09999999999997L369.4 369.29999999999995Z" fill="#2f9e3c"/>
<path d="M399.2 396.6V391.7M394.4 391.7H404.0" stroke="#2aa0d6" stroke-width="1" fill="none"/>
<rect x="400.59999999999997" y="389.0" width="2.6" height="2.6" fill="#2aa0d6"/>
<rect x="395.2" y="391.0" width="2.6" height="2.6" fill="#2aa0d6"/>
<rect x="403.3" y="395.09999999999997" width="2.6" height="2.6" fill="#2aa0d6"/>
<rect x="393.2" y="399.2" width="2.6" height="2.6" fill="#2aa0d6"/>
<rect x="397.9" y="400.09999999999997" width="2.6" height="2.6" fill="#2aa0d6"/>
<rect x="397.9" y="407.7" width="2.6" height="2.6" fill="#2aa0d6"/>
<path d="M429.2 399.3V391.9M424.0 391.9H434.4" stroke="#5b1b7a" stroke-width="1" fill="none"/>
<path d="M427.4 387.1L430.6 387.1L429 389.90000000000003Z" fill="#5b1b7a"/>
<path d="M430.09999999999997 394.5L433.3 394.5L431.7 397.3Z" fill="#5b1b7a"/>
<path d="M425.09999999999997 396.6L428.3 396.6L426.7 399.40000000000003Z" fill="#5b1b7a"/>
<path d="M427.4 407.1L430.6 407.1L429 409.90000000000003Z" fill="#5b1b7a"/>
<path d="M429.7 415.5L432.90000000000003 415.5L431.3 418.3Z" fill="#5b1b7a"/>
<path d="M425.09999999999997 419.6L428.3 419.6L426.7 422.40000000000003Z" fill="#5b1b7a"/>
<path d="M324.6 334.3V428H443.9" stroke="#222" stroke-width="1.3" fill="none" stroke-linecap="square"/>
<path d="M321.20000000000005 336.2H324.6" stroke="#222" stroke-width="1.2"/>
<text x="318.6" y="339.09999999999997" font-size="8.2" fill="#2a2a2a" stroke="#2a2a2a" text-anchor="end">10</text>
<path d="M321.20000000000005 359.15H324.6" stroke="#222" stroke-width="1.2"/>
<text x="318.6" y="362.04999999999995" font-size="8.2" fill="#2a2a2a" stroke="#2a2a2a" text-anchor="end">1</text>
<path d="M321.20000000000005 382.1H324.6" stroke="#222" stroke-width="1.2"/>
<text x="318.6" y="385.0" font-size="8.2" fill="#2a2a2a" stroke="#2a2a2a" text-anchor="end">0.100</text>
<path d="M321.20000000000005 405.05H324.6" stroke="#222" stroke-width="1.2"/>
<text x="318.6" y="407.95" font-size="8.2" fill="#2a2a2a" stroke="#2a2a2a" text-anchor="end">0.010</text>
<path d="M321.20000000000005 428H324.6" stroke="#222" stroke-width="1.2"/>
<text x="318.6" y="430.9" font-size="8.2" fill="#2a2a2a" stroke="#2a2a2a" text-anchor="end">0.001</text>
<path d="M322.40000000000003 352.24H324.6" stroke="#222" stroke-width="0.7"/>
<path d="M322.40000000000003 348.2H324.6" stroke="#222" stroke-width="0.7"/>
<path d="M322.40000000000003 345.33H324.6" stroke="#222" stroke-width="0.7"/>
<path d="M322.40000000000003 343.11H324.6" stroke="#222" stroke-width="0.7"/>
<path d="M322.40000000000003 341.29H324.6" stroke="#222" stroke-width="0.7"/>
<path d="M322.40000000000003 339.75H324.6" stroke="#222" stroke-width="0.7"/>
<path d="M322.40000000000003 338.42H324.6" stroke="#222" stroke-width="0.7"/>
<path d="M322.40000000000003 337.25H324.6" stroke="#222" stroke-width="0.7"/>
<path d="M322.40000000000003 375.19H324.6" stroke="#222" stroke-width="0.7"/>
<path d="M322.40000000000003 371.15H324.6" stroke="#222" stroke-width="0.7"/>
<path d="M322.40000000000003 368.28H324.6" stroke="#222" stroke-width="0.7"/>
<path d="M322.40000000000003 366.06H324.6" stroke="#222" stroke-width="0.7"/>
<path d="M322.40000000000003 364.24H324.6" stroke="#222" stroke-width="0.7"/>
<path d="M322.40000000000003 362.7H324.6" stroke="#222" stroke-width="0.7"/>
<path d="M322.40000000000003 361.37H324.6" stroke="#222" stroke-width="0.7"/>
<path d="M322.40000000000003 360.2H324.6" stroke="#222" stroke-width="0.7"/>
<path d="M322.40000000000003 398.14H324.6" stroke="#222" stroke-width="0.7"/>
<path d="M322.40000000000003 394.1H324.6" stroke="#222" stroke-width="0.7"/>
<path d="M322.40000000000003 391.23H324.6" stroke="#222" stroke-width="0.7"/>
<path d="M322.40000000000003 389.01H324.6" stroke="#222" stroke-width="0.7"/>
<path d="M322.40000000000003 387.19H324.6" stroke="#222" stroke-width="0.7"/>
<path d="M322.40000000000003 385.65H324.6" stroke="#222" stroke-width="0.7"/>
<path d="M322.40000000000003 384.32H324.6" stroke="#222" stroke-width="0.7"/>
<path d="M322.40000000000003 383.15H324.6" stroke="#222" stroke-width="0.7"/>
<path d="M322.40000000000003 421.09H324.6" stroke="#222" stroke-width="0.7"/>
<path d="M322.40000000000003 417.05H324.6" stroke="#222" stroke-width="0.7"/>
<path d="M322.40000000000003 414.18H324.6" stroke="#222" stroke-width="0.7"/>
<path d="M322.40000000000003 411.96H324.6" stroke="#222" stroke-width="0.7"/>
<path d="M322.40000000000003 410.14H324.6" stroke="#222" stroke-width="0.7"/>
<path d="M322.40000000000003 408.6H324.6" stroke="#222" stroke-width="0.7"/>
<path d="M322.40000000000003 407.27H324.6" stroke="#222" stroke-width="0.7"/>
<path d="M322.40000000000003 406.1H324.6" stroke="#222" stroke-width="0.7"/>
<path d="M340.0 428V431.3" stroke="#222" stroke-width="1.2"/>
<text x="343.1" y="440.3" font-size="8.8" fill="#2a2a2a" stroke="#2a2a2a" text-anchor="end" textLength="21.5" lengthAdjust="spacingAndGlyphs" transform="rotate(-45 343.1 440.3)">Ctrl T</text>
<path d="M369.7 428V431.3" stroke="#222" stroke-width="1.2"/>
<text x="372.8" y="440.3" font-size="8.8" fill="#2a2a2a" stroke="#2a2a2a" text-anchor="end" textLength="24.5" lengthAdjust="spacingAndGlyphs" transform="rotate(-45 372.8 440.3)">ADR T</text>
<path d="M399.29999999999995 428V431.3" stroke="#222" stroke-width="1.2"/>
<text x="402.4" y="440.3" font-size="8.8" fill="#2a2a2a" stroke="#2a2a2a" text-anchor="end" textLength="24.5" lengthAdjust="spacingAndGlyphs" transform="rotate(-45 402.4 440.3)">CAR T</text>
<path d="M429.1 428V431.3" stroke="#222" stroke-width="1.2"/>
<text x="432.20000000000005" y="440.3" font-size="8.8" fill="#2a2a2a" stroke="#2a2a2a" text-anchor="end" textLength="44" lengthAdjust="spacingAndGlyphs" transform="rotate(-45 432.20000000000005 440.3)">CAR-ADR T</text>
<text x="370.1" y="324" font-size="7.7" fill="#2a2a2a" stroke="#2a2a2a" textLength="28.9" lengthAdjust="spacingAndGlyphs">NAL M6</text>
<text x="292.3" y="423.8" font-size="9.2" fill="#2a2a2a" stroke="#2a2a2a" textLength="84" lengthAdjust="spacingAndGlyphs" transform="rotate(-90 292.3 423.8)">Normalized target count</text>
<path d="M340.3 354.5V339.5H431.8V374" stroke="#333" stroke-width="1.1" fill="none"/>
<text x="369.5" y="335.7" font-size="7.6" fill="#2a2a2a" stroke="#2a2a2a" textLength="31.8" lengthAdjust="spacingAndGlyphs"><tspan font-style="italic">P</tspan> = .0007</text>
<path d="M369.7 356.7V352.5H427.2V374" stroke="#333" stroke-width="1.1" fill="none"/>
<text x="383.6" y="348.7" font-size="7.6" fill="#2a2a2a" stroke="#2a2a2a" textLength="27.1" lengthAdjust="spacingAndGlyphs"><tspan font-style="italic">P</tspan> = .001</text>
<path d="M400 382.3H429.7" stroke="#444" stroke-width="1.4"/>
<text x="413.8" y="380" font-size="7.6" fill="#2a2a2a" stroke="#2a2a2a" text-anchor="middle" textLength="6.6" lengthAdjust="spacingAndGlyphs" font-style="italic">ns</text>
</svg>
<div id="frame"></div>
</body></html>
